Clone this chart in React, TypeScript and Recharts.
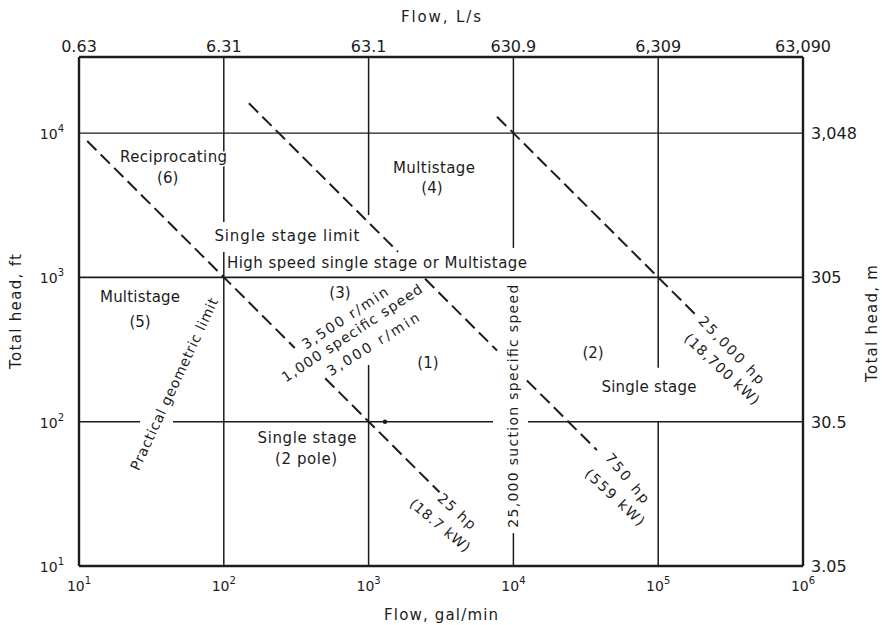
import {
  ComposedChart,
  Line,
  Scatter,
  XAxis,
  YAxis,
  ReferenceLine,
  ReferenceDot,
} from 'recharts';

const FONT = '"DejaVu Sans", sans-serif';
const INK = '#1c1c1c';

// axes
const FLOW_TICKS = [10, 100, 1000, 10000, 100000, 1000000];
const FLOW_LS_LABELS = ['0.63', '6.31', '63.1', '630.9', '6,309', '63,090'];
const HEAD_TICKS = [10, 100, 1000, 10000];
const HEAD_M_LABELS = ['3.05', '30.5', '305', '3,048'];
const FLOW_DOMAIN = [10, 1000000];
const HEAD_DOMAIN = [10, 33650];

type Pt = { flow: number; head: number };

// dashed lines, flow in gal/min and head in ft (broken where text sits)
const LINE_25HP: Pt[][] = [
  [{ flow: 11.4, head: 8800 }, { flow: 309, head: 324 }],
  [{ flow: 501, head: 200 }, { flow: 3090, head: 32.4 }],
];
const LINE_750HP: Pt[][] = [
  [{ flow: 149, head: 16070 }, { flow: 1596, head: 1503 }],
  [{ flow: 2455, head: 977 }, { flow: 7709, head: 311 }],
  [{ flow: 12400, head: 193 }, { flow: 37760, head: 63.5 }],
];
const LINE_25000HP: Pt[][] = [
  [{ flow: 7709, head: 12970 }, { flow: 179500, head: 557 }],
];

// solid boundaries
const FLOW_LIMITS = [
  { flow: 100, from: 10, to: 1500 },
  { flow: 100, from: 2420, to: 33650 },
  { flow: 1000, from: 10, to: 247 },
  { flow: 1000, from: 2700, to: 33650 },
  { flow: 10000, from: 10, to: 16.9 },
  { flow: 10000, from: 1600, to: 33650 },
  { flow: 100000, from: 10, to: 100 },
  { flow: 100000, from: 236, to: 33650 },
];
const HEAD_LIMITS = [
  { head: 100, from: 10, to: 26.4, w: 1.5 },
  { head: 100, from: 44.6, to: 7230, w: 1.5 },
  { head: 100, from: 12600, to: 1000000, w: 1.5 },
  { head: 1000, from: 10, to: 1000000, w: 1.8 },
  { head: 10000, from: 10, to: 1000000, w: 1.2 },
];

type Note = { text: string; flow: number; head: number; angle?: number; len?: number; size?: number };

const NOTES: Note[] = [
  { text: 'Reciprocating', flow: 45, head: 6820, len: 107, size: 15 },
  { text: '(6)', flow: 41, head: 4890, size: 15 },
  { text: 'Multistage', flow: 2830, head: 5730, len: 82, size: 15 },
  { text: '(4)', flow: 2740, head: 4170, size: 15 },
  { text: 'Single stage limit', flow: 273, head: 1940, len: 145, size: 15 },
  { text: 'High speed single stage or Multistage', flow: 1143, head: 1259, len: 300, size: 15 },
  { text: 'Multistage', flow: 26.4, head: 731, len: 80, size: 15 },
  { text: '(5)', flow: 26.4, head: 491, size: 15 },
  { text: 'Practical geometric limit', flow: 45.3, head: 182, angle: -65, len: 188, size: 14 },
  { text: '(3)', flow: 634, head: 780, size: 15 },
  { text: '3,500 r/min', flow: 687, head: 524, angle: -33.5, len: 100, size: 14 },
  { text: '1,000 specific speed', flow: 767, head: 412, angle: -33.5, len: 165, size: 14 },
  { text: '3,000 r/min', flow: 1072, head: 345, angle: -32, len: 106, size: 14 },
  { text: '(1)', flow: 2570, head: 255, size: 15 },
  { text: 'Single stage', flow: 376, head: 77, len: 99, size: 15 },
  { text: '(2 pole)', flow: 370, head: 55.2, len: 62, size: 15 },
  { text: '25 hp', flow: 4074, head: 24, angle: 42, len: 46, size: 14 },
  { text: '(18.7 kW)', flow: 3110, head: 19.2, angle: 40, len: 74, size: 14 },
  { text: '25,000 suction specific speed', flow: 10000, head: 128, angle: -90, len: 243, size: 14 },
  { text: '(2)', flow: 35500, head: 299, size: 15 },
  { text: 'Single stage', flow: 86300, head: 174, len: 95, size: 15 },
  { text: '750 hp', flow: 61400, head: 40.7, angle: 50, len: 60, size: 14 },
  { text: '(559 kW)', flow: 50300, head: 30, angle: 43, len: 76, size: 14 },
  { text: '25,000 hp', flow: 322000, head: 314, angle: 46, len: 88, size: 14 },
  { text: '(18,700 kW)', flow: 276000, head: 232, angle: 43, len: 97, size: 14 },
];

function NoteText(props: any) {
  const { cx, cy, payload } = props;
  if (cx == null || cy == null) return null;
  const { text, angle, len, size } = payload as Note;
  return (
    <text
      x={cx}
      y={cy}
      textAnchor="middle"
      dominantBaseline="central"
      fontFamily={FONT}
      fontSize={size ?? 14}
      fill={INK}
      stroke="#fff"
      strokeWidth={3}
      paintOrder="stroke"
      textLength={len}
      lengthAdjust={len ? 'spacing' : undefined}
      transform={angle ? `rotate(${angle} ${cx} ${cy})` : undefined}
    >
      {text}
    </text>
  );
}

const powerTick = (anchor: 'middle' | 'end', dx: number, dy: number) => (props: any) => {
  const { x, y, payload } = props;
  const exp = Math.round(Math.log10(payload.value));
  return (
    <text x={x + dx} y={y + dy} textAnchor={anchor} fontFamily={FONT} fontSize={14} fill={INK}>
      10
      <tspan dy={-7} fontSize={10}>
        {exp}
      </tspan>
    </text>
  );
};

const labelTick =
  (labels: string[], ticks: number[], anchor: 'middle' | 'start', dx: number, dy: number) =>
  (props: any) => {
    const { x, y, payload } = props;
    return (
      <text x={x + dx} y={y + dy} textAnchor={anchor} fontFamily={FONT} fontSize={16} fill={INK}>
        {labels[ticks.indexOf(payload.value)]}
      </text>
    );
  };

const axisTitle =
  (text: string, place: 'top' | 'bottom' | 'left' | 'right', len: number) => (props: any) => {
    const vb = props.viewBox ?? {};
    const { x = 0, y = 0, width = 0, height = 0 } = vb;
    let cx = x + width / 2;
    let cy = y + height / 2;
    let rot = 0;
    if (place === 'bottom') cy = y + 49;
    if (place === 'top') cy = y - 10;
    if (place === 'left') {
      cx = x - 23;
      rot = -90;
    }
    if (place === 'right') {
      cx = x + width + 29;
      cy += 12;
      rot = -90;
    }
    return (
      <text
        x={cx}
        y={cy}
        textAnchor="middle"
        dominantBaseline="central"
        fontFamily={FONT}
        fontSize={15}
        fill={INK}
        textLength={len}
        lengthAdjust="spacing"
        transform={rot ? `rotate(${rot} ${cx} ${cy})` : undefined}
      >
        {text}
      </text>
    );
  };

export default function App() {
  return (
    <div style={{ position: 'absolute', left: 0, top: 0, background: '#fff' }}>
      <ComposedChart width={882} height={625} margin={{ top: 27, right: 39, bottom: 29, left: 39 }}>
        <XAxis
          dataKey="flow"
          type="number"
          scale="log"
          domain={FLOW_DOMAIN}
          ticks={FLOW_TICKS}
          interval={0}
          allowDataOverflow
          height={30}
          tickSize={0}
          tickMargin={0}
          tickLine={false}
          axisLine={{ stroke: INK, strokeWidth: 2.4 }}
          tick={powerTick('middle', 0, 25)}
          label={axisTitle('Flow, gal/min', 'bottom', 114)}
        />
        <XAxis
          xAxisId="ls"
          dataKey="flow"
          orientation="top"
          type="number"
          scale="log"
          domain={FLOW_DOMAIN}
          ticks={FLOW_TICKS}
          interval={0}
          allowDataOverflow
          height={30}
          tickSize={0}
          tickMargin={0}
          tickLine={false}
          axisLine={{ stroke: INK, strokeWidth: 2.4 }}
          tick={labelTick(FLOW_LS_LABELS, FLOW_TICKS, 'middle', 0, -5)}
          label={axisTitle('Flow, L/s', 'top', 80)}
        />
        <YAxis
          type="number"
          scale="log"
          domain={HEAD_DOMAIN}
          ticks={HEAD_TICKS}
          interval={0}
          allowDataOverflow
          width={40}
          tickSize={0}
          tickMargin={0}
          tickLine={false}
          axisLine={{ stroke: INK, strokeWidth: 2.4 }}
          tick={powerTick('end', -15, 6)}
          label={axisTitle('Total head, ft', 'left', 115)}
        />
        <YAxis
          yAxisId="m"
          orientation="right"
          type="number"
          scale="log"
          domain={HEAD_DOMAIN}
          ticks={HEAD_TICKS}
          interval={0}
          allowDataOverflow
          width={40}
          tickSize={0}
          tickMargin={0}
          tickLine={false}
          axisLine={{ stroke: INK, strokeWidth: 2.4 }}
          tick={labelTick(HEAD_M_LABELS, HEAD_TICKS, 'start', 8, 6)}
          label={axisTitle('Total head, m', 'right', 117)}
        />

        {FLOW_LIMITS.map((s, i) => (
          <ReferenceLine
            key={`v${i}`}
            segment={[
              { x: s.flow, y: s.from },
              { x: s.flow, y: s.to },
            ]}
            stroke={INK}
            strokeWidth={1.5}
          />
        ))}
        {HEAD_LIMITS.map((s, i) => (
          <ReferenceLine
            key={`h${i}`}
            segment={[
              { x: s.from, y: s.head },
              { x: s.to, y: s.head },
            ]}
            stroke={INK}
            strokeWidth={s.w}
          />
        ))}
        <ReferenceDot x={1297} y={100} r={2.2} fill={INK} stroke="none" />

        {[...LINE_25HP, ...LINE_750HP, ...LINE_25000HP].map((seg, i) => (
          <Line
            key={`d${i}`}
            data={seg}
            dataKey="head"
            type="linear"
            stroke={INK}
            strokeWidth={2}
            strokeDasharray="13 6"
            dot={false}
            activeDot={false}
            isAnimationActive={false}
          />
        ))}
        {/* carries the L/s axis, draws nothing */}
        <Line
          xAxisId="ls"
          data={LINE_25000HP[0]}
          dataKey="head"
          stroke="none"
          dot={false}
          activeDot={false}
          isAnimationActive={false}
        />

        <Scatter data={NOTES} dataKey="head" shape={NoteText} isAnimationActive={false} />
      </ComposedChart>
    </div>
  );
}
